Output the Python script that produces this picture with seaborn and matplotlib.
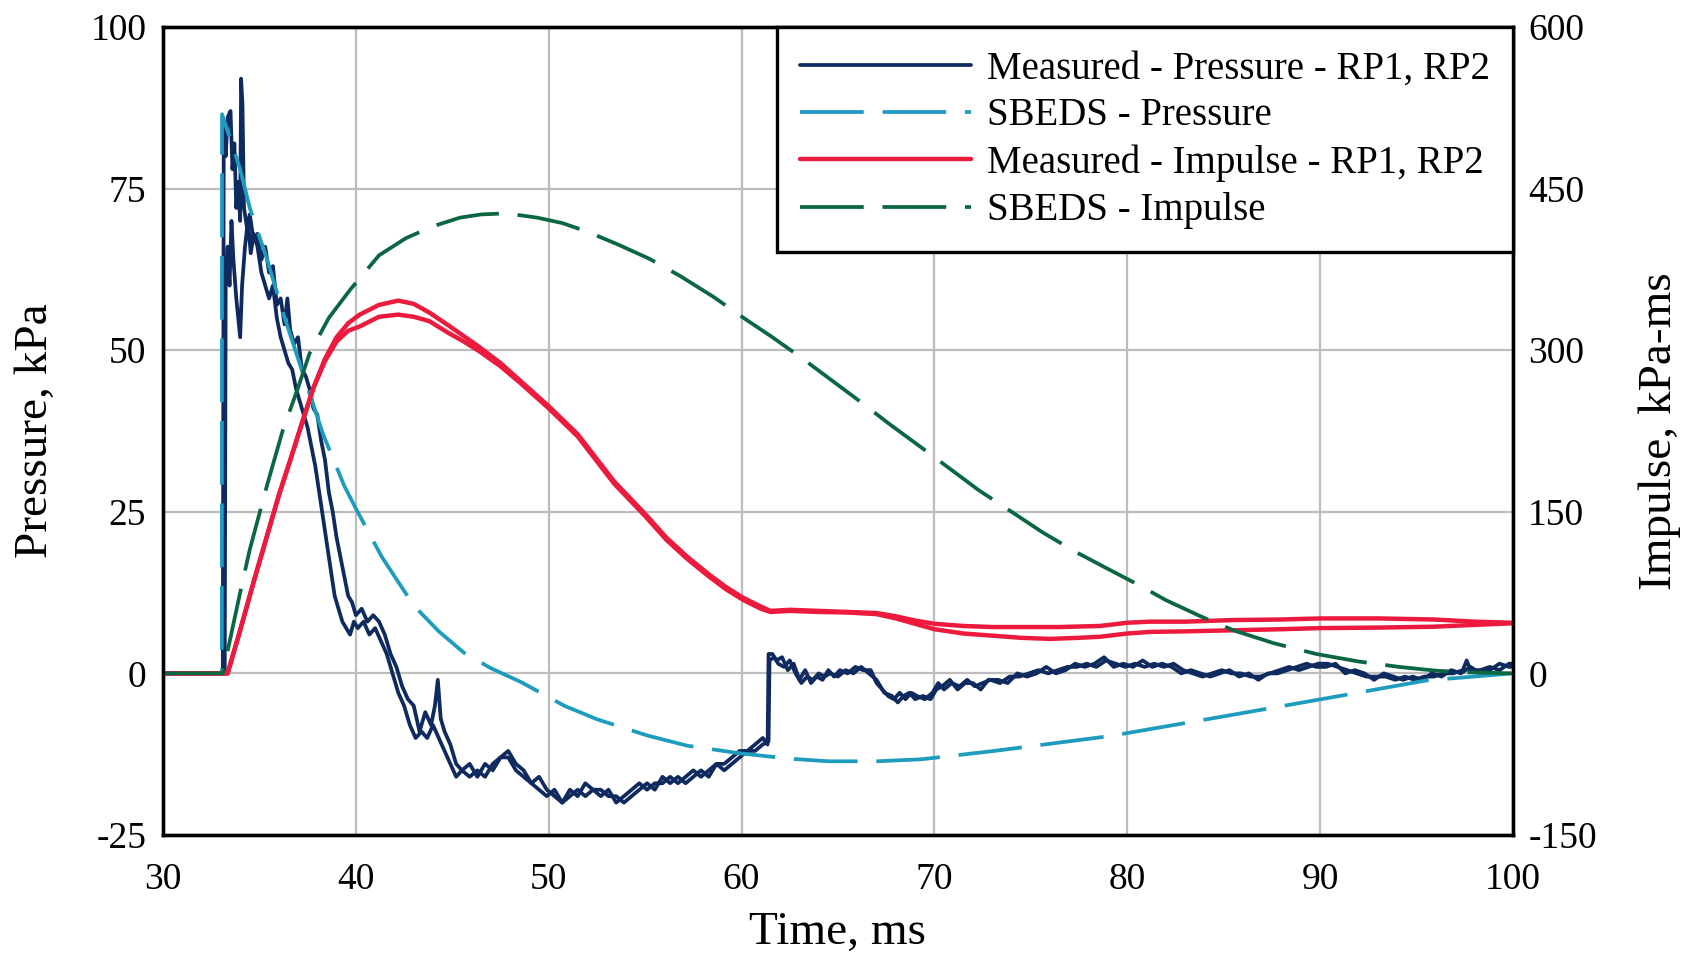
import matplotlib
matplotlib.use("Agg")
import matplotlib.pyplot as plt
import seaborn as sns

# ---- measured reflected pressure, gauges RP1 and RP2 (ms, kPa) ----
rp1_t = [30, 33.1, 33.15, 33.25, 33.35, 33.5, 33.6, 33.7, 33.8, 33.9, 34.0, 34.05, 34.12, 34.2,
         34.35, 34.5, 34.7, 34.9, 35.1, 35.3, 35.5, 35.7, 35.9, 36.1, 36.3, 36.45, 36.6, 36.8,
         37.0, 37.2, 37.4, 37.6, 37.8, 38.0, 38.2, 38.4, 38.6, 38.8, 39.0, 39.2, 39.4, 39.6,
         39.8, 40.0, 40.3, 40.6, 40.9, 41.2, 41.5, 41.8, 42.1, 42.4, 42.7, 43.0, 43.3, 43.6,
         43.9, 44.1, 44.25, 44.4, 44.6, 44.9, 45.2, 45.5, 45.9, 46.3, 46.7, 47.1, 47.5, 47.9,
         48.3, 48.7, 49.1, 49.5, 49.9, 50.3, 50.7, 51.1, 51.5, 51.9, 52.3, 52.7, 53.1, 53.5,
         53.9, 54.3, 54.7, 55.1, 55.5, 55.9, 56.3, 56.7, 57.1, 57.5, 57.9, 58.3, 58.7, 59.1,
         59.5, 59.9, 60.3, 60.7, 61.1, 61.35, 61.4, 61.6, 61.8, 62.1, 62.4, 62.7, 63.0, 63.3,
         63.6, 63.9, 64.2, 64.5, 64.8, 65.1, 65.5, 65.9, 66.3, 66.7, 67.0, 67.3, 67.6, 67.9,
         68.2, 68.5, 68.8, 69.1, 69.5, 69.9, 70.2, 70.5, 70.9, 71.3, 71.7, 72.1, 72.5, 72.9,
         73.4, 73.9, 74.4, 74.9, 75.4, 75.9, 76.4, 76.9, 77.4, 77.9, 78.4, 78.9, 79.4, 79.9,
         80.4, 80.9, 81.4, 81.9, 82.4, 82.9, 83.4, 83.9, 84.4, 84.9, 85.4, 85.9, 86.4, 86.9,
         87.4, 87.9, 88.4, 88.9, 89.4, 89.9, 90.4, 90.9, 91.4, 91.9, 92.4, 92.9, 93.4, 93.9,
         94.4, 94.9, 95.4, 95.9, 96.4, 96.9, 97.4, 97.6, 97.8, 98.3, 98.8, 99.3, 99.8, 100]
rp1_p = [0, 0, 85, 80, 86, 87, 78, 82, 72, 76, 70, 92, 88, 72,
         69, 71, 67, 68, 64, 66, 62, 63, 57, 58, 54, 58, 53, 51,
         52, 47, 46, 44, 41, 40, 36, 33, 28, 25, 21, 18, 15, 12,
         11, 9, 10, 8, 9, 8, 6, 3, 1, -2, -4, -5, -9, -6,
         -8, -5, -1, -7, -9, -11, -14, -15, -14, -16, -14, -15, -13, -12,
         -14, -15, -17, -16, -18, -19, -20, -18, -19, -17, -18, -19, -18, -20,
         -19, -18, -17, -18, -17, -17, -16, -17, -16, -15, -16, -15, -14, -14,
         -13, -12, -12, -11, -10, -11, 3, 3, 2, 2.5, 0.5, 1.5, -1, 0.5,
         -1.5, -0.5, -1, 0.5, -0.5, 0.5, 0, 1, 0.5, 0.5, -1.5, -2.5, -3.5, -4,
         -3, -4, -3, -3.5, -4, -3, -1.5, -2.5, -1.5, -2, -1, -2, -1.5, -1,
         -1.5, -0.5, -0.5, 0, 0.5, 0, 0.5, 1, 1, 1.5, 1, 2, 1.5, 1,
         1.5, 1, 1.5, 1, 1.5, 0.5, 0, -0.5, 0, 0.5, 0, 0, -0.5, -0.5,
         0, 0.5, 1, 0.5, 1, 1.5, 1.5, 1, 0.5, 0, -0.5, -0.5, -0.5, -1,
         -0.5, -1, -0.5, -0.5, 0, 0, 0.5, 2, 0.5, 0.5, 1, 0.5, 1.5, 1.5]

rp2_t = [30, 33.2, 33.25, 33.35, 33.45, 33.55, 33.65, 33.8, 33.9, 34.0, 34.1, 34.25, 34.4, 34.55,
         34.7, 34.9, 35.1, 35.3, 35.5, 35.7, 35.9, 36.1, 36.3, 36.5, 36.7, 36.9, 37.1, 37.3,
         37.5, 37.7, 37.9, 38.1, 38.3, 38.5, 38.7, 38.9, 39.1, 39.3, 39.5, 39.7, 39.9, 40.1,
         40.4, 40.7, 41.0, 41.3, 41.6, 41.9, 42.2, 42.5, 42.8, 43.1, 43.4, 43.7, 44.0, 44.3,
         44.6, 44.9, 45.2, 45.5, 45.9, 46.3, 46.7, 47.1, 47.5, 47.9, 48.3, 48.7, 49.1, 49.5,
         49.9, 50.3, 50.7, 51.1, 51.5, 51.9, 52.3, 52.7, 53.1, 53.5, 53.9, 54.3, 54.7, 55.1,
         55.5, 55.9, 56.3, 56.7, 57.1, 57.5, 57.9, 58.3, 58.7, 59.1, 59.5, 59.9, 60.3, 60.7,
         61.1, 61.4, 61.45, 61.7, 61.9, 62.2, 62.5, 62.8, 63.1, 63.4, 63.7, 64.0, 64.3, 64.6,
         65.0, 65.4, 65.8, 66.2, 66.6, 67.0, 67.4, 67.8, 68.1, 68.4, 68.7, 69.0, 69.4, 69.8,
         70.1, 70.4, 70.8, 71.2, 71.6, 72.0, 72.4, 72.8, 73.3, 73.8, 74.3, 74.8, 75.3, 75.8,
         76.3, 76.8, 77.3, 77.8, 78.3, 78.8, 79.3, 79.8, 80.3, 80.8, 81.3, 81.8, 82.3, 82.8,
         83.3, 83.8, 84.3, 84.8, 85.3, 85.8, 86.3, 86.8, 87.3, 87.8, 88.3, 88.8, 89.3, 89.8,
         90.3, 90.8, 91.3, 91.8, 92.3, 92.8, 93.3, 93.8, 94.3, 94.8, 95.3, 95.8, 96.3, 96.8,
         97.3, 97.8, 98.3, 98.8, 99.3, 99.8, 100]
rp2_p = [0, 0, 62, 66, 60, 70, 64, 58, 55, 52, 60, 66, 70, 65,
         68, 66, 62, 60, 58, 60, 55, 52, 50, 48, 47, 44, 42, 40,
         38, 35, 32, 28, 24, 20, 16, 12, 10, 8, 7, 6, 8, 7,
         8, 6, 7, 5, 3, 0, -3, -5, -8, -10, -9, -10, -8, -10,
         -12, -14, -16, -15, -16, -15, -16, -14, -13, -13, -15, -16, -17, -18,
         -19, -18, -20, -19, -18, -19, -18, -18, -19, -19, -20, -19, -18, -17,
         -18, -16, -17, -16, -17, -16, -15, -16, -14, -15, -14, -13, -12, -12,
         -11, -10.5, 2, 2.5, 1.5, 1, 2, 0, -1.5, -0.5, -1, 0, -0.5, 0,
         -0.5, 0.5, 0, 1, 0, -1, -3, -3.5, -4.5, -3.5, -3, -4, -3.5, -4,
         -2.5, -2, -1, -2.5, -1.5, -1.5, -2.5, -1, -1, -1.5, 0, -0.5, 0, 1,
         0, 0.5, 1.5, 1, 1.5, 2.5, 1, 1.5, 1, 2, 1, 1.5, 1, 0,
         0.5, 0, -0.5, 0, 0.5, -0.5, 0, -1, 0, 0, 0.5, 1, 1.5, 1,
         1, 1.5, 0, 0.5, 0, -1, 0, -0.5, -1, -0.5, -1, 0, -0.5, 0.5,
         0, 1, 0, 0.5, 1.5, 1, 1]

# ---- SBEDS predicted pressure (ms, kPa) ----
sbeds_p_t = [30, 33.05, 33.06, 34.0, 34.5, 35.4, 36.2, 37.3, 38.3, 39.4, 40.0, 41.35, 43.0,
             44.3, 45.6, 47.0, 48.6, 50.8, 52.5, 55.1, 57.2, 60.0, 62.5, 64.5, 67.0, 69.3,
             73.1, 79.1, 85.1, 91.0, 95.5, 100]
sbeds_p = [0, 0, 86.5, 78, 72, 64, 56, 46, 37, 29, 25.5, 18, 10.5,
           6.5, 3.2, 0.8, -1.4, -5, -7.1, -9.6, -11.2, -12.4, -13.2, -13.6, -13.6, -13.3,
           -12, -9.7, -6.6, -3.5, -1.1, 0]

# ---- measured impulse, RP1 and RP2 (ms, kPa-ms) ----
imp1_t = [30, 33.35, 34.0, 34.7, 35.4, 36.0, 36.6, 37.2, 37.8, 38.4, 39.0, 39.6, 40.2, 41.2,
          42.2, 43.0, 43.8, 44.8, 45.6, 46.4, 47.5, 48.5, 50.0, 51.5, 53.4, 55.0, 56.1, 57.2,
          58.3, 59.2, 60.1, 61.0, 61.5, 62.5, 64.0, 65.5, 67.0, 68.0, 69.0, 70.0, 71.5, 73.0,
          75.0, 76.5, 78.6, 80.0, 81.2, 83.0, 85.5, 88.0, 90.0, 93.0, 95.9, 98.0, 100]
imp1 = [0, 0, 40, 85, 128, 165, 198, 232, 265, 292, 312, 325, 333, 342,
        346, 343, 335, 323, 313, 303, 288, 272, 248, 222, 178, 148, 126, 108,
        92, 80, 70, 62, 58, 59, 58, 57, 56, 53, 49, 46, 44, 43,
        43, 43, 44, 47, 48, 48, 49.5, 50, 51, 51, 50, 48, 47]
imp2_t = [30, 33.35, 34.0, 34.7, 35.4, 36.0, 36.6, 37.2, 37.8, 38.4, 39.0, 39.6, 40.2, 41.2,
          42.2, 43.0, 43.8, 44.8, 45.6, 46.4, 47.5, 48.5, 50.0, 51.5, 53.4, 55.0, 56.1, 57.2,
          58.3, 59.2, 60.1, 61.0, 61.5, 62.5, 64.0, 65.5, 67.0, 68.0, 69.0, 70.0, 71.5, 73.0,
          74.5, 76.0, 77.5, 78.6, 80.0, 81.2, 83.0, 85.5, 88.0, 90.0, 93.0, 95.9, 98.0, 100]
imp2 = [0, 0, 40, 85, 128, 165, 198, 232, 265, 290, 308, 318, 322, 331,
        333, 331, 327, 316, 308, 299, 285, 270, 246, 220, 176, 146, 124, 106,
        90, 78, 68, 60, 57, 58, 57, 56.5, 55, 51, 46, 41, 37, 35,
        33, 32, 33, 34, 37, 38.5, 39, 40, 41, 42, 42.5, 43.3, 45, 46.5]

# ---- SBEDS predicted impulse (ms, kPa-ms) ----
sbeds_i_t = [30, 33.1, 34.0, 34.5, 35.4, 36.2, 37.0, 37.6, 38.6, 39.7, 41.2, 42.6, 44.0, 45.4,
             46.5, 47.8, 49.4, 50.7, 52.0, 53.6, 55.2, 56.8, 58.5, 60.1, 61.6, 63.1, 64.6,
             66.1, 67.7, 69.3, 70.8, 72.3, 74.0, 75.6, 77.3, 79.1, 80.6, 82.0, 83.8, 85.5,
             87.6, 89.8, 92.0, 94.1, 96.0, 97.6, 100]
sbeds_i = [0, 0, 75, 115, 175, 225, 265, 297, 330, 356, 388, 404, 415, 423,
           426, 427, 423, 418, 410, 398, 385, 369, 350, 330, 312, 293, 273,
           253, 231, 210, 190, 170, 150, 131, 113, 96, 82, 68, 53, 40,
           28, 18, 11, 6, 2.5, 1, 0]

x_ticks = [30, 40, 50, 60, 70, 80, 90, 100]
p_ticks = [-25, 0, 25, 50, 75, 100]
i_ticks = [-150, 0, 150, 300, 450, 600]

labels = ["Measured - Pressure - RP1, RP2", "SBEDS - Pressure",
          "Measured - Impulse - RP1, RP2", "SBEDS - Impulse"]

NAVY = "#0f2a5e"
CYAN = "#1e9cbd"
RED = "#ec1b3d"
GREEN = "#0b6642"

sns.set_theme(style="whitegrid")
plt.rcParams["font.family"] = ["Liberation Serif", "DejaVu Serif"]
plt.rcParams["axes.unicode_minus"] = False
plt.rcParams["text.color"] = "black"
plt.rcParams["axes.labelcolor"] = "black"
plt.rcParams["xtick.color"] = "black"
plt.rcParams["ytick.color"] = "black"

fig, ax = plt.subplots(figsize=(16.91, 9.56), dpi=100)
fig.subplots_adjust(left=0.0964, right=0.8947, top=0.9718, bottom=0.1266)
ax2 = ax.twinx()

dash = (0, (17, 5))
lw_p = 2.7
lw_d = 2.7

sns.lineplot(x=rp1_t, y=rp1_p, ax=ax, color=NAVY, lw=lw_p, sort=False, estimator=None)
sns.lineplot(x=rp2_t, y=rp2_p, ax=ax, color=NAVY, lw=lw_p, sort=False, estimator=None)
sns.lineplot(x=sbeds_p_t, y=sbeds_p, ax=ax, color=CYAN, lw=lw_d, linestyle=dash,
             sort=False, estimator=None)
sns.lineplot(x=imp1_t, y=imp1, ax=ax2, color=RED, lw=3.2, sort=False, estimator=None)
sns.lineplot(x=imp2_t, y=imp2, ax=ax2, color=RED, lw=3.2, sort=False, estimator=None)
sns.lineplot(x=sbeds_i_t, y=sbeds_i, ax=ax2, color=GREEN, lw=lw_d, linestyle=dash,
             sort=False, estimator=None)

l_lines = ax.get_lines()
r_lines = ax2.get_lines()
handles = [l_lines[0], l_lines[2], r_lines[0], r_lines[2]]

ax.set_xlim(30, 100)
ax.set_ylim(-25, 100)
ax2.set_ylim(-150, 600)
ax.set_xticks(x_ticks)
ax.set_yticks(p_ticks)
ax2.set_yticks(i_ticks)

ax.grid(True, color="#bdbdbd", lw=1.6)
ax2.grid(False)
ax.set_axisbelow(True)

for a in (ax, ax2):
    for s in a.spines.values():
        s.set_color("black")
        s.set_linewidth(2.4)
    a.tick_params(length=0, labelsize=27)
ax.tick_params(axis="x", pad=20)
ax.tick_params(axis="y", pad=12)
ax2.tick_params(axis="y", pad=11)

ax.set_xlabel("Time, ms", fontsize=34, labelpad=10)
ax.set_ylabel("Pressure, kPa", fontsize=34, labelpad=24)
ax2.set_ylabel("Impulse, kPa-ms", fontsize=34, labelpad=30)

leg = ax2.legend(handles, labels, loc="upper right", bbox_to_anchor=(1, 1),
                 borderaxespad=0, fontsize=28, handlelength=4.4, handletextpad=0.4,
                 labelspacing=0.26, borderpad=0.6, frameon=True, fancybox=False,
                 framealpha=1, edgecolor="black")
leg.get_frame().set_linewidth(2.4)

fig.savefig("out.png", dpi=100, facecolor="white")
